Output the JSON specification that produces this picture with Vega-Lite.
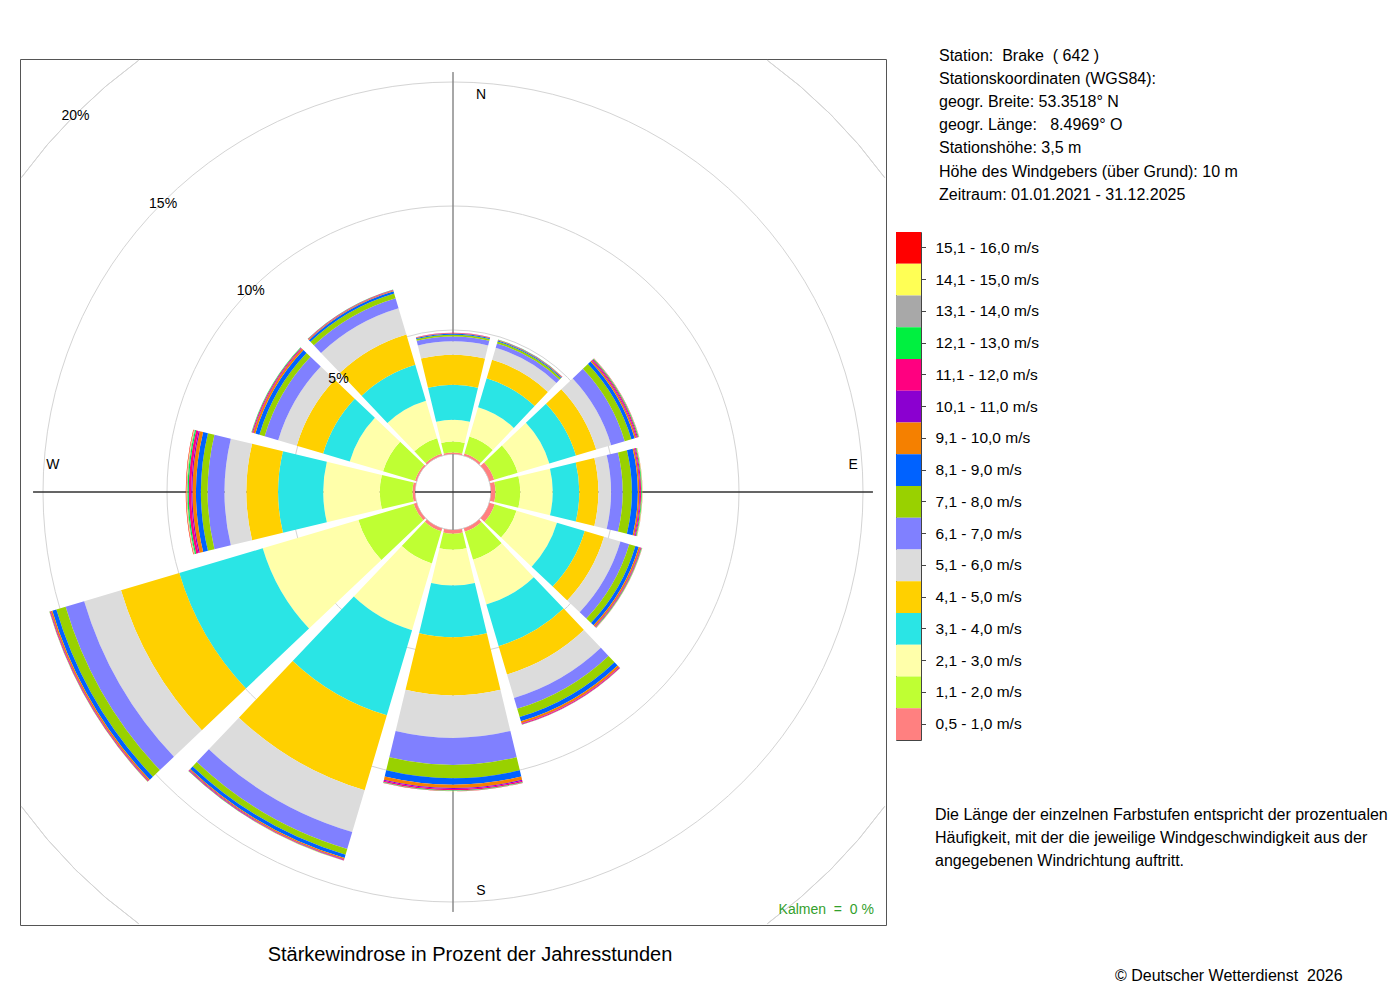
{
  "$schema": "https://vega.github.io/schema/vega-lite/v6.json",
  "background": "white",
  "padding": {"left": 19, "top": 47, "right": 0, "bottom": 5},
  "spacing": 8,
  "title": {
    "text": "© Deutscher Wetterdienst\u00a0 2026",
    "orient": "bottom",
    "anchor": "start",
    "frame": "group",
    "dx": 1095,
    "offset": 2,
    "fontSize": 16
  },
  "datasets": {
    "rose": [
      {"r": 0, "s": 1, "p": 0.06}, {"r": 0, "s": 2, "p": 0.44}, {"r": 0, "s": 3, "p": 0.88}, {"r": 0, "s": 4, "p": 1.41},
      {"r": 0, "s": 5, "p": 1.21}, {"r": 0, "s": 6, "p": 0.54}, {"r": 0, "s": 7, "p": 0.2}, {"r": 0, "s": 8, "p": 0.07},
      {"r": 0, "s": 9, "p": 0.04}, {"r": 0, "s": 10, "p": 0.02}, {"r": 0, "s": 11, "p": 0.005}, {"r": 0, "s": 12, "p": 0.01},
      {"r": 0, "s": 13, "p": 0.005}, {"r": 0, "s": 14, "p": 0}, {"r": 0, "s": 15, "p": 0}, {"r": 0, "s": 16, "p": 0},

      {"r": 30, "s": 1, "p": 0.09}, {"r": 30, "s": 2, "p": 0.71}, {"r": 30, "s": 3, "p": 1.23}, {"r": 30, "s": 4, "p": 1.22},
      {"r": 30, "s": 5, "p": 0.78}, {"r": 30, "s": 6, "p": 0.5}, {"r": 30, "s": 7, "p": 0.18}, {"r": 30, "s": 8, "p": 0.085},
      {"r": 30, "s": 9, "p": 0.04}, {"r": 30, "s": 10, "p": 0.02}, {"r": 30, "s": 11, "p": 0.01}, {"r": 30, "s": 12, "p": 0.01},
      {"r": 30, "s": 13, "p": 0.005}, {"r": 30, "s": 14, "p": 0}, {"r": 30, "s": 15, "p": 0}, {"r": 30, "s": 16, "p": 0},

      {"r": 60, "s": 1, "p": 0.2}, {"r": 60, "s": 2, "p": 0.99}, {"r": 60, "s": 3, "p": 1.33}, {"r": 60, "s": 4, "p": 1.12},
      {"r": 60, "s": 5, "p": 0.85}, {"r": 60, "s": 6, "p": 0.63}, {"r": 60, "s": 7, "p": 0.57}, {"r": 60, "s": 8, "p": 0.28},
      {"r": 60, "s": 9, "p": 0.14}, {"r": 60, "s": 10, "p": 0.06}, {"r": 60, "s": 11, "p": 0.03}, {"r": 60, "s": 12, "p": 0.05},
      {"r": 60, "s": 13, "p": 0.03}, {"r": 60, "s": 14, "p": 0.01}, {"r": 60, "s": 15, "p": 0.005}, {"r": 60, "s": 16, "p": 0.005},

      {"r": 90, "s": 1, "p": 0.18}, {"r": 90, "s": 2, "p": 1.0}, {"r": 90, "s": 3, "p": 1.31}, {"r": 90, "s": 4, "p": 1.07},
      {"r": 90, "s": 5, "p": 0.77}, {"r": 90, "s": 6, "p": 0.51}, {"r": 90, "s": 7, "p": 0.47}, {"r": 90, "s": 8, "p": 0.37},
      {"r": 90, "s": 9, "p": 0.24}, {"r": 90, "s": 10, "p": 0.06}, {"r": 90, "s": 11, "p": 0.03}, {"r": 90, "s": 12, "p": 0.04},
      {"r": 90, "s": 13, "p": 0.03}, {"r": 90, "s": 14, "p": 0.01}, {"r": 90, "s": 15, "p": 0.01}, {"r": 90, "s": 16, "p": 0.005},

      {"r": 120, "s": 1, "p": 0.22}, {"r": 120, "s": 2, "p": 0.92}, {"r": 120, "s": 3, "p": 1.7}, {"r": 120, "s": 4, "p": 1.17},
      {"r": 120, "s": 5, "p": 0.81}, {"r": 120, "s": 6, "p": 0.69}, {"r": 120, "s": 7, "p": 0.37}, {"r": 120, "s": 8, "p": 0.26},
      {"r": 120, "s": 9, "p": 0.14}, {"r": 120, "s": 10, "p": 0.06}, {"r": 120, "s": 11, "p": 0.02}, {"r": 120, "s": 12, "p": 0.03},
      {"r": 120, "s": 13, "p": 0.02}, {"r": 120, "s": 14, "p": 0.01}, {"r": 120, "s": 15, "p": 0.005}, {"r": 120, "s": 16, "p": 0.005},

      {"r": 150, "s": 1, "p": 0.14}, {"r": 150, "s": 2, "p": 1.18}, {"r": 150, "s": 3, "p": 1.88}, {"r": 150, "s": 4, "p": 1.75},
      {"r": 150, "s": 5, "p": 1.19}, {"r": 150, "s": 6, "p": 0.99}, {"r": 150, "s": 7, "p": 0.45}, {"r": 150, "s": 8, "p": 0.35},
      {"r": 150, "s": 9, "p": 0.18}, {"r": 150, "s": 10, "p": 0.085}, {"r": 150, "s": 11, "p": 0.02}, {"r": 150, "s": 12, "p": 0.03},
      {"r": 150, "s": 13, "p": 0.01}, {"r": 150, "s": 14, "p": 0.005}, {"r": 150, "s": 15, "p": 0}, {"r": 150, "s": 16, "p": 0},

      {"r": 180, "s": 1, "p": 0.15}, {"r": 180, "s": 2, "p": 0.65}, {"r": 180, "s": 3, "p": 1.44}, {"r": 180, "s": 4, "p": 2.08},
      {"r": 180, "s": 5, "p": 2.35}, {"r": 180, "s": 6, "p": 1.71}, {"r": 180, "s": 7, "p": 1.09}, {"r": 180, "s": 8, "p": 0.54},
      {"r": 180, "s": 9, "p": 0.26}, {"r": 180, "s": 10, "p": 0.13}, {"r": 180, "s": 11, "p": 0.04}, {"r": 180, "s": 12, "p": 0.05},
      {"r": 180, "s": 13, "p": 0.02}, {"r": 180, "s": 14, "p": 0.01}, {"r": 180, "s": 15, "p": 0.005}, {"r": 180, "s": 16, "p": 0.005},

      {"r": 210, "s": 1, "p": 0.12}, {"r": 210, "s": 2, "p": 1.35}, {"r": 210, "s": 3, "p": 2.81}, {"r": 210, "s": 4, "p": 3.58},
      {"r": 210, "s": 5, "p": 3.15}, {"r": 210, "s": 6, "p": 1.76}, {"r": 210, "s": 7, "p": 0.71}, {"r": 210, "s": 8, "p": 0.24},
      {"r": 210, "s": 9, "p": 0.14}, {"r": 210, "s": 10, "p": 0.05}, {"r": 210, "s": 11, "p": 0.02}, {"r": 210, "s": 12, "p": 0.03},
      {"r": 210, "s": 13, "p": 0.01}, {"r": 210, "s": 14, "p": 0.005}, {"r": 210, "s": 15, "p": 0.005}, {"r": 210, "s": 16, "p": 0},

      {"r": 240, "s": 1, "p": 0.12}, {"r": 240, "s": 2, "p": 2.33}, {"r": 240, "s": 3, "p": 4.02}, {"r": 240, "s": 4, "p": 3.51},
      {"r": 240, "s": 5, "p": 2.45}, {"r": 240, "s": 6, "p": 1.55}, {"r": 240, "s": 7, "p": 0.78}, {"r": 240, "s": 8, "p": 0.39},
      {"r": 240, "s": 9, "p": 0.17}, {"r": 240, "s": 10, "p": 0.06}, {"r": 240, "s": 11, "p": 0.02}, {"r": 240, "s": 12, "p": 0.03},
      {"r": 240, "s": 13, "p": 0.01}, {"r": 240, "s": 14, "p": 0.005}, {"r": 240, "s": 15, "p": 0.005}, {"r": 240, "s": 16, "p": 0},

      {"r": 270, "s": 1, "p": 0.1}, {"r": 270, "s": 2, "p": 1.32}, {"r": 270, "s": 3, "p": 2.28}, {"r": 270, "s": 4, "p": 1.82},
      {"r": 270, "s": 5, "p": 1.28}, {"r": 270, "s": 6, "p": 0.88}, {"r": 270, "s": 7, "p": 0.68}, {"r": 270, "s": 8, "p": 0.27},
      {"r": 270, "s": 9, "p": 0.2}, {"r": 270, "s": 10, "p": 0.14}, {"r": 270, "s": 11, "p": 0.05}, {"r": 270, "s": 12, "p": 0.1},
      {"r": 270, "s": 13, "p": 0.05}, {"r": 270, "s": 14, "p": 0.03}, {"r": 270, "s": 15, "p": 0.02}, {"r": 270, "s": 16, "p": 0.02},

      {"r": 300, "s": 1, "p": 0.07}, {"r": 300, "s": 2, "p": 1.34}, {"r": 300, "s": 3, "p": 1.4}, {"r": 300, "s": 4, "p": 1.12},
      {"r": 300, "s": 5, "p": 1.11}, {"r": 300, "s": 6, "p": 0.78}, {"r": 300, "s": 7, "p": 0.57}, {"r": 300, "s": 8, "p": 0.22},
      {"r": 300, "s": 9, "p": 0.17}, {"r": 300, "s": 10, "p": 0.08}, {"r": 300, "s": 11, "p": 0.02}, {"r": 300, "s": 12, "p": 0.04},
      {"r": 300, "s": 13, "p": 0.02}, {"r": 300, "s": 14, "p": 0.01}, {"r": 300, "s": 15, "p": 0}, {"r": 300, "s": 16, "p": 0},

      {"r": 330, "s": 1, "p": 0.08}, {"r": 330, "s": 2, "p": 0.65}, {"r": 330, "s": 3, "p": 1.58}, {"r": 330, "s": 4, "p": 1.51},
      {"r": 330, "s": 5, "p": 1.27}, {"r": 330, "s": 6, "p": 1.11}, {"r": 330, "s": 7, "p": 0.42}, {"r": 330, "s": 8, "p": 0.2},
      {"r": 330, "s": 9, "p": 0.09}, {"r": 330, "s": 10, "p": 0.03}, {"r": 330, "s": 11, "p": 0.01}, {"r": 330, "s": 12, "p": 0.02},
      {"r": 330, "s": 13, "p": 0.01}, {"r": 330, "s": 14, "p": 0}, {"r": 330, "s": 15, "p": 0}, {"r": 330, "s": 16, "p": 0}
    ],
    "klassen": [
      {"s": 16, "kl": "15,1 - 16,0 m/s"},
      {"s": 15, "kl": "14,1 - 15,0 m/s"},
      {"s": 14, "kl": "13,1 - 14,0 m/s"},
      {"s": 13, "kl": "12,1 - 13,0 m/s"},
      {"s": 12, "kl": "11,1 - 12,0 m/s"},
      {"s": 11, "kl": "10,1 - 11,0 m/s"},
      {"s": 10, "kl": "9,1 - 10,0 m/s"},
      {"s": 9, "kl": "8,1 - 9,0 m/s"},
      {"s": 8, "kl": "7,1 - 8,0 m/s"},
      {"s": 7, "kl": "6,1 - 7,0 m/s"},
      {"s": 6, "kl": "5,1 - 6,0 m/s"},
      {"s": 5, "kl": "4,1 - 5,0 m/s"},
      {"s": 4, "kl": "3,1 - 4,0 m/s"},
      {"s": 3, "kl": "2,1 - 3,0 m/s"},
      {"s": 2, "kl": "1,1 - 2,0 m/s"},
      {"s": 1, "kl": "0,5 - 1,0 m/s"}
    ]
  },
  "hconcat": [
    {
      "width": 866,
      "height": 866,
      "view": {"stroke": "#555", "strokeWidth": 1},
      "title": {
        "text": "Stärkewindrose in Prozent der Jahresstunden",
        "orient": "bottom",
        "anchor": "middle",
        "dx": 17,
        "offset": 20,
        "fontSize": 20
      },
      "layer": [
        {
          "description": "Ringe 5, 10, 15 %",
          "data": {"values": [{"pct": 5}, {"pct": 10}, {"pct": 15}]},
          "mark": {"type": "arc", "filled": false, "stroke": "#d4d4d4", "strokeWidth": 1},
          "encoding": {
            "theta": {"datum": 0, "scale": {"type": "linear", "domain": [0, 360], "range": [0, 6.283185307179586]}},
            "theta2": {"datum": 360},
            "radius": {"field": "pct", "type": "quantitative", "stack": null, "scale": {"type": "linear", "domain": [0, 20], "range": [38, 534], "zero": false}}
          }
        },
        {
          "description": "Ring 20 %, nur in den Ecken innerhalb des Rahmens",
          "data": {"values": [{"pct": 20, "w": 45}, {"pct": 20, "w": 135}, {"pct": 20, "w": 225}, {"pct": 20, "w": 315}]},
          "mark": {"type": "arc", "filled": false, "stroke": "#d4d4d4", "strokeWidth": 1, "strokeJoin": "bevel", "strokeCap": "butt", "thetaOffset": -0.156, "theta2Offset": 0.156},
          "encoding": {
            "theta": {"field": "w", "type": "quantitative", "stack": null, "scale": {"type": "linear", "domain": [0, 360], "range": [0, 6.283185307179586]}},
            "theta2": {"field": "w"},
            "radius": {"field": "pct", "type": "quantitative", "stack": null, "scale": {"type": "linear", "domain": [0, 20], "range": [38, 534], "zero": false}},
            "radius2": {"field": "pct"}
          }
        },
        {
          "description": "Achse Nord-Sued",
          "data": {"values": [{"w": 0}, {"w": 180}]},
          "mark": {"type": "arc", "filled": false, "stroke": "#8a8a8a", "strokeWidth": 1},
          "encoding": {
            "theta": {"field": "w", "type": "quantitative", "stack": null, "scale": {"type": "linear", "domain": [0, 360], "range": [0, 6.283185307179586]}},
            "theta2": {"field": "w"},
            "radius": {"datum": 15.4, "scale": {"type": "linear", "domain": [0, 20], "range": [38, 534], "zero": false}},
            "radius2": {"value": 0}
          }
        },
        {
          "description": "Achse West-Ost",
          "data": {"values": [{"w": 90}, {"w": 270}]},
          "mark": {"type": "arc", "filled": false, "stroke": "#333", "strokeWidth": 1},
          "encoding": {
            "theta": {"field": "w", "type": "quantitative", "stack": null, "scale": {"type": "linear", "domain": [0, 360], "range": [0, 6.283185307179586]}},
            "theta2": {"field": "w"},
            "radius": {"datum": 15.4, "scale": {"type": "linear", "domain": [0, 20], "range": [38, 534], "zero": false}},
            "radius2": {"value": 0}
          }
        },
        {
          "description": "Sektoren, gestapelt nach Windstaerke",
          "data": {"name": "rose"},
          "transform": [
            {"stack": "p", "groupby": ["r"], "sort": [{"field": "s", "order": "ascending"}], "as": ["p0", "p1"]}
          ],
          "mark": {"type": "arc", "thetaOffset": -0.2356, "theta2Offset": 0.2356},
          "encoding": {
            "theta": {"field": "r", "type": "quantitative", "stack": null, "scale": {"type": "linear", "domain": [0, 360], "range": [0, 6.283185307179586]}},
            "theta2": {"field": "r"},
            "radius": {"field": "p1", "type": "quantitative", "stack": null, "scale": {"type": "linear", "domain": [0, 20], "range": [38, 534], "zero": false}},
            "radius2": {"field": "p0"},
            "color": {
              "field": "s",
              "type": "ordinal",
              "legend": null,
              "scale": {
                "domain": [1, 2, 3, 4, 5, 6, 7, 8, 9, 10, 11, 12, 13, 14, 15, 16],
                "range": ["#ff8080", "#bfff33", "#ffffaa", "#2ae5e5", "#ffd000", "#dcdcdc", "#8080ff", "#99d100", "#0062ff", "#f58000", "#8b00d0", "#ff0080", "#00f040", "#a8a8a8", "#ffff55", "#ff0000"]
              }
            }
          }
        },
        {
          "description": "Prozent-Beschriftung",
          "data": {"values": [{"pct": 5, "lab": "5%"}, {"pct": 10, "lab": "10%"}, {"pct": 15, "lab": "15%"}, {"pct": 20, "lab": "20%"}]},
          "mark": {"type": "text", "fontSize": 14, "color": "#000", "dy": 1.5},
          "encoding": {
            "theta": {"datum": 315, "scale": {"type": "linear", "domain": [0, 360], "range": [0, 6.283185307179586]}},
            "radius": {"field": "pct", "type": "quantitative", "stack": null, "scale": {"type": "linear", "domain": [0, 20], "range": [38, 534], "zero": false}},
            "text": {"field": "lab"}
          }
        },
        {
          "data": {"values": [{"k": "N", "w": 0}, {"k": "S", "w": 180}]},
          "mark": {"type": "text", "fontSize": 14, "color": "#000", "dx": 28, "dy": 1},
          "encoding": {
            "theta": {"field": "w", "type": "quantitative", "stack": null, "scale": {"type": "linear", "domain": [0, 360], "range": [0, 6.283185307179586]}},
            "radius": {"datum": 14.52, "scale": {"type": "linear", "domain": [0, 20], "range": [38, 534], "zero": false}},
            "text": {"field": "k"}
          }
        },
        {
          "data": {"values": [{"k": "E", "w": 90}, {"k": "W", "w": 270}]},
          "mark": {"type": "text", "fontSize": 14, "color": "#000", "dy": -27},
          "encoding": {
            "theta": {"field": "w", "type": "quantitative", "stack": null, "scale": {"type": "linear", "domain": [0, 360], "range": [0, 6.283185307179586]}},
            "radius": {"datum": 14.6, "scale": {"type": "linear", "domain": [0, 20], "range": [38, 534], "zero": false}},
            "text": {"field": "k"}
          }
        },
        {
          "data": {"values": [{"t": "Kalmen\u00a0 =\u00a0 0 %"}]},
          "mark": {"type": "text", "fontSize": 14, "color": "#33a02c", "align": "right", "dy": 2},
          "encoding": {
            "theta": {"datum": 134.66, "scale": {"type": "linear", "domain": [0, 360], "range": [0, 6.283185307179586]}},
            "radius": {"datum": 22.33, "scale": {"type": "linear", "domain": [0, 20], "range": [38, 534], "zero": false}},
            "text": {"field": "t"}
          }
        }
      ]
    },
    {
      "spacing": 9,
      "vconcat": [
        {
          "width": 86,
          "height": 162.4,
          "data": {
            "values": [
              {"z": 1, "t": "Station:\u00a0 Brake\u00a0 ( 642 )"},
              {"z": 2, "t": "Stationskoordinaten (WGS84):"},
              {"z": 3, "t": "geogr. Breite: 53.3518° N"},
              {"z": 4, "t": "geogr. Länge:\u00a0\u00a0 8.4969° O"},
              {"z": 5, "t": "Stationshöhe: 3,5 m"},
              {"z": 6, "t": "Höhe des Windgebers (über Grund): 10 m"},
              {"z": 7, "t": "Zeitraum: 01.01.2021 - 31.12.2025"}
            ]
          },
          "mark": {"type": "text", "align": "left", "fontSize": 16, "color": "#000", "dy": -15},
          "encoding": {
            "y": {"field": "z", "type": "ordinal", "axis": null},
            "text": {"field": "t"}
          }
        },
        {
          "width": 25,
          "height": 508,
          "view": {"stroke": "#444", "strokeWidth": 1},
          "data": {"name": "klassen"},
          "mark": {"type": "rect"},
          "encoding": {
            "y": {
              "field": "kl",
              "type": "nominal",
              "sort": ["15,1 - 16,0 m/s", "14,1 - 15,0 m/s", "13,1 - 14,0 m/s", "12,1 - 13,0 m/s", "11,1 - 12,0 m/s", "10,1 - 11,0 m/s", "9,1 - 10,0 m/s", "8,1 - 9,0 m/s", "7,1 - 8,0 m/s", "6,1 - 7,0 m/s", "5,1 - 6,0 m/s", "4,1 - 5,0 m/s", "3,1 - 4,0 m/s", "2,1 - 3,0 m/s", "1,1 - 2,0 m/s", "0,5 - 1,0 m/s"],
              "scale": {"paddingInner": 0, "paddingOuter": 0},
              "axis": {
                "orient": "right",
                "title": null,
                "domain": false,
                "grid": false,
                "ticks": true,
                "tickSize": 4.5,
                "tickColor": "#444",
                "labelPadding": 9.5,
                "labelFontSize": 15.5,
                "labelColor": "#000"
              }
            },
            "color": {
              "field": "s",
              "type": "ordinal",
              "legend": null,
              "scale": {
                "domain": [1, 2, 3, 4, 5, 6, 7, 8, 9, 10, 11, 12, 13, 14, 15, 16],
                "range": ["#ff8080", "#bfff33", "#ffffaa", "#2ae5e5", "#ffd000", "#dcdcdc", "#8080ff", "#99d100", "#0062ff", "#f58000", "#8b00d0", "#ff0080", "#00f040", "#a8a8a8", "#ffff55", "#ff0000"]
              }
            }
          },
          "title": {
            "text": [
              "Die Länge der einzelnen Farbstufen entspricht der prozentualen",
              "Häufigkeit, mit der die jeweilige Windgeschwindigkeit aus der",
              "angegebenen Windrichtung auftritt."
            ],
            "orient": "bottom",
            "anchor": "start",
            "frame": "group",
            "dx": 39,
            "offset": 67,
            "fontSize": 16,
            "lineHeight": 23
          }
        }
      ]
    }
  ],
  "config": {
    "font": "Liberation Sans",
    "view": {"stroke": null},
    "title": {"color": "#000", "fontWeight": "normal", "font": "Liberation Sans"},
    "axis": {"labelFont": "Liberation Sans", "titleFont": "Liberation Sans"},
    "text": {"font": "Liberation Sans"}
  }
}
